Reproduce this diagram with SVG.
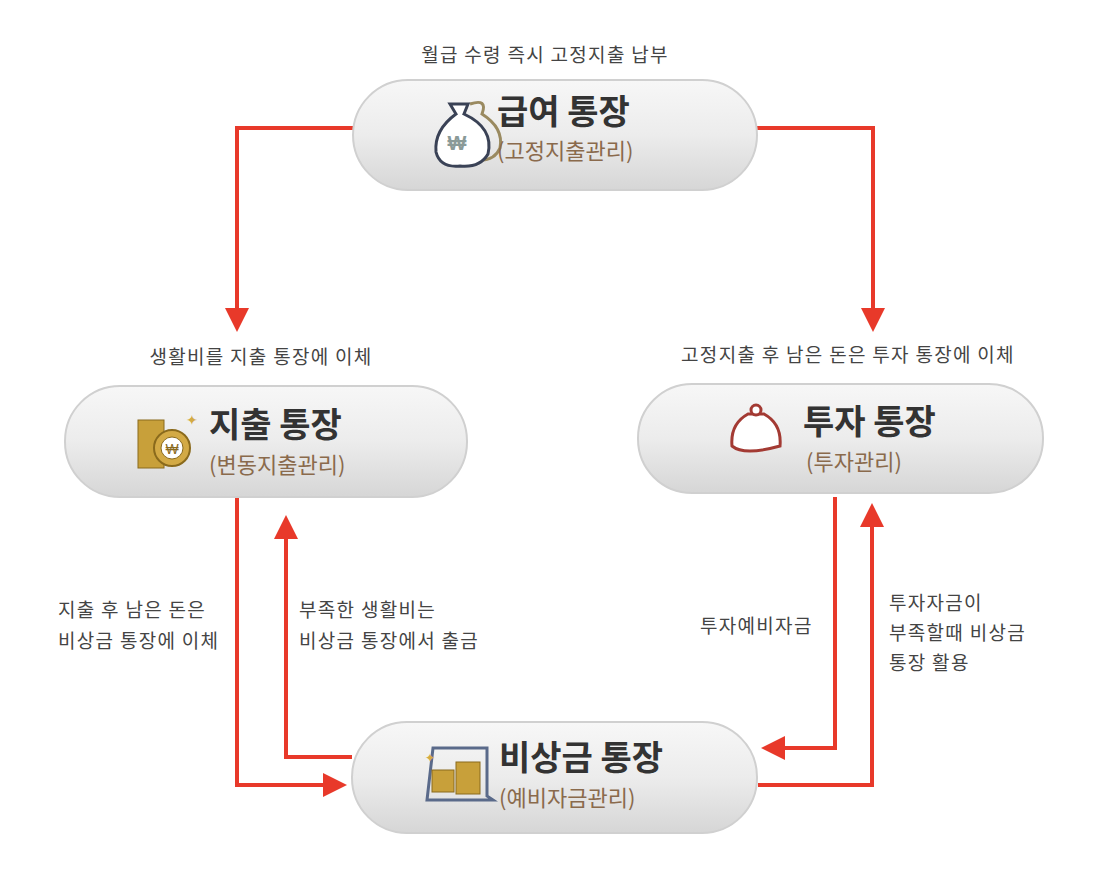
<svg xmlns="http://www.w3.org/2000/svg" width="1117" height="884" viewBox="0 0 1117 884">
<defs>
<linearGradient id="g" x1="0" y1="0" x2="0" y2="1"><stop offset="0" stop-color="#f7f7f7"/><stop offset="0.5" stop-color="#ececec"/><stop offset="1" stop-color="#d6d6d6"/></linearGradient>
<marker id="ah" markerWidth="6" markerHeight="6" refX="3" refY="3" orient="auto" markerUnits="strokeWidth"><path d="M0,0 L6,3 L0,6 Z" fill="#e8392a"/></marker>
<style>
.pill{fill:url(#g);stroke:#d0d0d0;stroke-width:2}
.t{font-family:"Noto Sans CJK KR","Noto Sans",sans-serif;font-weight:bold;font-size:34px;fill:#333}
.s{font-family:"Noto Sans CJK KR","Noto Sans",sans-serif;font-size:22px;fill:#8a6a4c}
.l{font-family:"Noto Sans CJK KR","Noto Sans",sans-serif;font-size:19px;letter-spacing:1.3px;fill:#444}
.c{fill:none;stroke:#e8392a;stroke-width:4;marker-end:url(#ah)}
.coin{fill:#c8a03a;stroke:#8a6a1c;stroke-width:1}
</style>
</defs>
<rect width="1117" height="884" fill="#fff"/>
<g id="connectors">
<path class="c" d="M355,128 H237 V320"/>
<path class="c" d="M757,128 H873 V320"/>
<path class="c" d="M237,497 V785 H335"/>
<path class="c" d="M352,757 H286 V527"/>
<path class="c" d="M835,497 V748 H773"/>
<path class="c" d="M758,785 H872 V515"/>
</g>
<g id="labels">
<text class="l" x="545" y="62" text-anchor="middle">월급 수령 즉시 고정지출 납부</text>
<text class="l" x="261" y="364" text-anchor="middle">생활비를 지출 통장에 이체</text>
<text class="l" x="848" y="362" text-anchor="middle">고정지출 후 남은 돈은 투자 통장에 이체</text>
<text class="l" x="58" y="617">지출 후 남은 돈은</text>
<text class="l" x="58" y="648">비상금 통장에 이체</text>
<text class="l" x="299" y="617">부족한 생활비는</text>
<text class="l" x="299" y="648">비상금 통장에서 출금</text>
<text class="l" x="700" y="633">투자예비자금</text>
<text class="l" x="889" y="610">투자자금이</text>
<text class="l" x="889" y="640">부족할때 비상금</text>
<text class="l" x="889" y="670">통장 활용</text>
</g>
<g id="node-salary">
<rect class="pill" x="353" y="80" width="404" height="110" rx="55"/>
<path d="M470,104 q18,-6 12,10 q22,14 18,34 q-6,14 -24,12" fill="none" stroke="#9a8a60" stroke-width="3"/>
<path d="M450,104 h18 l-4,10 q30,14 24,40 q-8,14 -28,12 q-20,2 -24,-14 q-2,-22 20,-38 z" fill="#fff" stroke="#3a4256" stroke-width="3"/>
<text x="457" y="150" font-family="Liberation Sans,sans-serif" font-weight="bold" font-size="20" fill="#8a9a98" text-anchor="middle">₩</text>
<text class="t" x="497" y="124">급여 통장</text>
<text class="s" x="497" y="159">(고정지출관리)</text>
</g>
<g id="node-spend">
<rect class="pill" x="65" y="386" width="402" height="111" rx="55"/>
<rect class="coin" x="138" y="420" width="26" height="48"/>
<circle cx="172" cy="448" r="18" fill="#d3aa45" stroke="#8a6a1c" stroke-width="2"/>
<circle cx="172" cy="448" r="11" fill="#fff" stroke="#8a6a1c"/>
<text x="172" y="454" font-family="Liberation Sans,sans-serif" font-size="14" fill="#8a6a1c" text-anchor="middle">₩</text>
<text x="186" y="425" font-size="14" fill="#d3aa45" font-family="Liberation Sans,sans-serif">✦</text>
<text class="t" x="209" y="437">지출 통장</text>
<text class="s" x="209" y="473">(변동지출관리)</text>
</g>
<g id="node-invest">
<rect class="pill" x="638" y="384" width="405" height="109" rx="54"/>
<path d="M748,414 q-18,10 -16,32 q12,10 48,0 q2,-22 -16,-32 z" fill="#fff" stroke="#a33a33" stroke-width="3"/>
<circle cx="756" cy="410" r="5" fill="#fff" stroke="#a33a33" stroke-width="3"/>
<text class="t" x="803" y="434">투자 통장</text>
<text class="s" x="806" y="470">(투자관리)</text>
</g>
<g id="node-emergency">
<rect class="pill" x="352" y="722" width="405" height="111" rx="55"/>
<path d="M433,748 h54 v48 l6,4 h-66 z" fill="none" stroke="#5a6a8a" stroke-width="3"/>
<rect class="coin" x="432" y="770" width="22" height="22"/>
<rect class="coin" x="456" y="762" width="24" height="32"/>
<text x="425" y="762" font-size="12" fill="#d3aa45" font-family="Liberation Sans,sans-serif">✦</text>
<text class="t" x="499" y="770">비상금 통장</text>
<text class="s" x="499" y="806">(예비자금관리)</text>
</g>
</svg>
